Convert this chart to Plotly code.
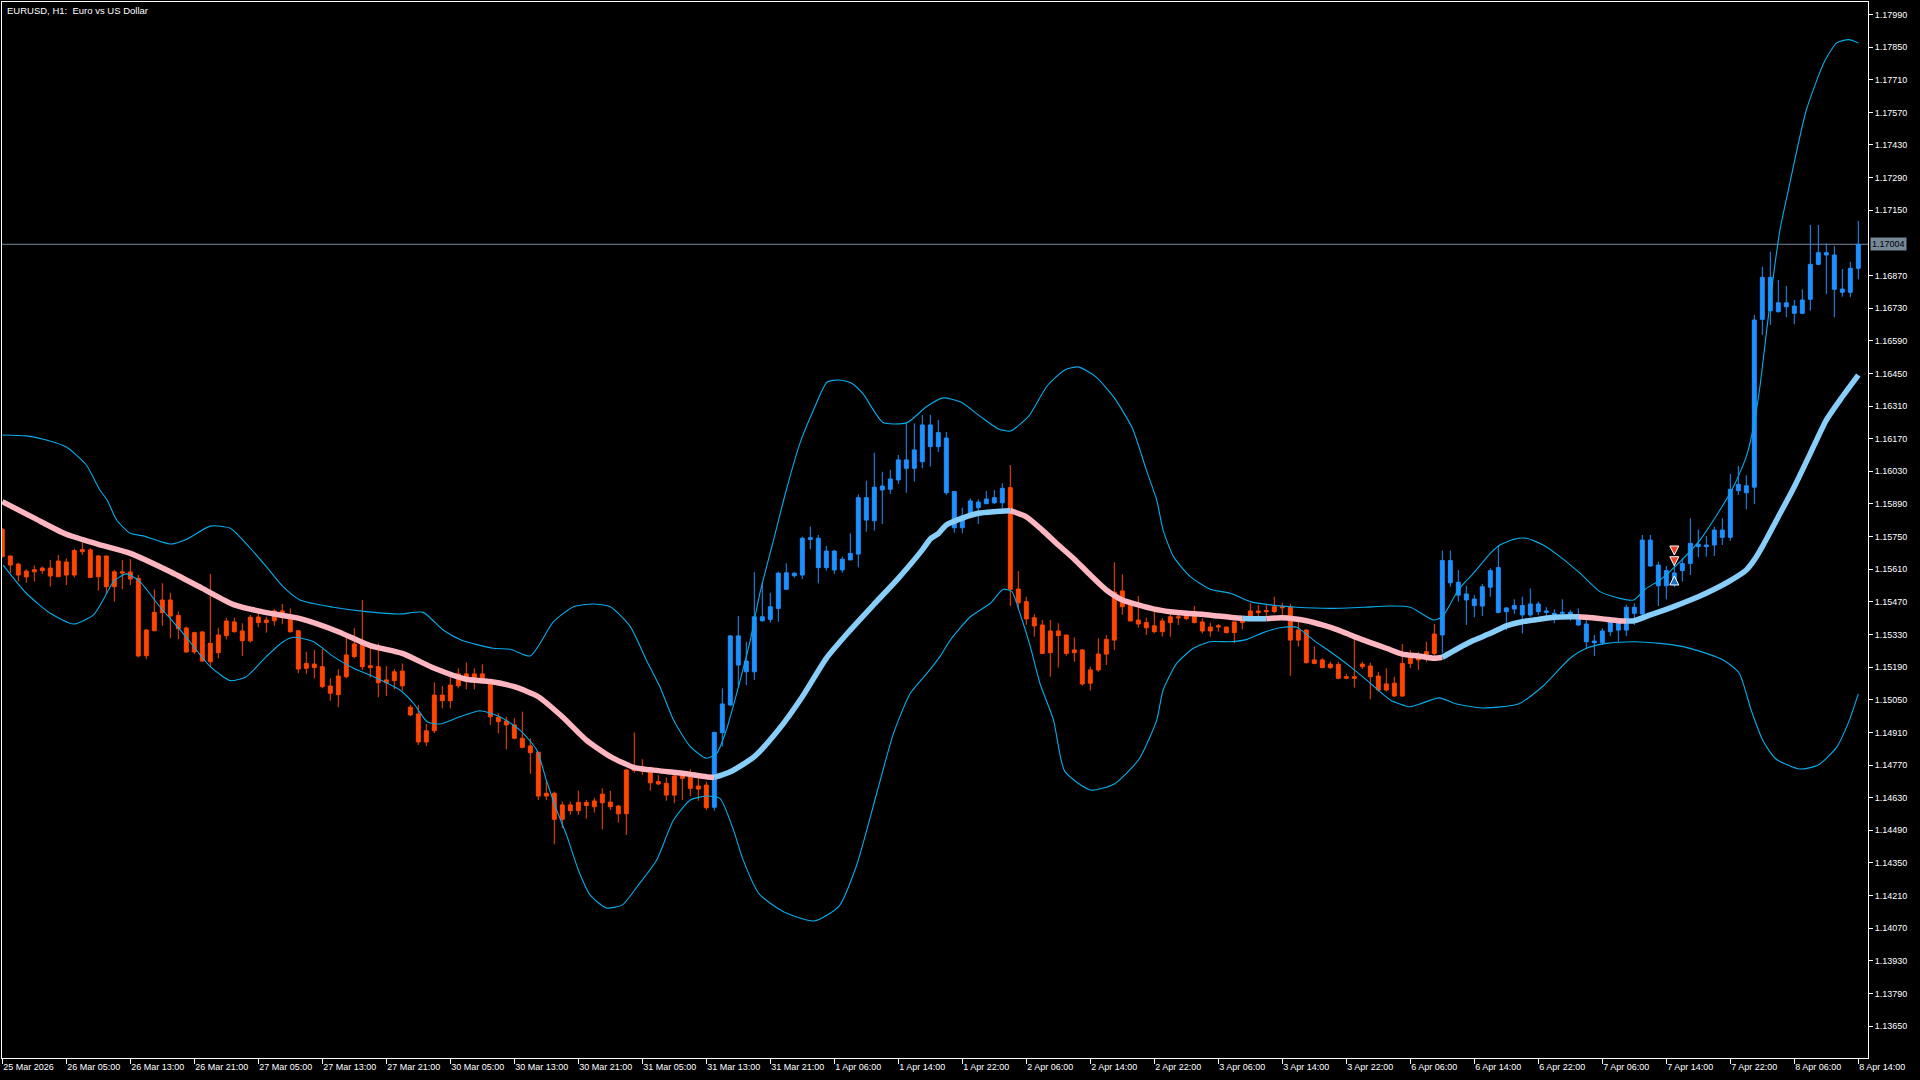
import plotly.graph_objects as go

# ---------------- DATA ----------------
tick_labels = ["25 Mar 2026", "26 Mar 05:00", "26 Mar 13:00", "26 Mar 21:00", "27 Mar 05:00",
               "27 Mar 13:00", "27 Mar 21:00", "30 Mar 05:00", "30 Mar 13:00", "30 Mar 21:00",
               "31 Mar 05:00", "31 Mar 13:00", "31 Mar 21:00", "1 Apr 06:00", "1 Apr 14:00",
               "1 Apr 22:00", "2 Apr 06:00", "2 Apr 14:00", "2 Apr 22:00", "3 Apr 06:00",
               "3 Apr 14:00", "3 Apr 22:00", "6 Apr 06:00", "6 Apr 14:00", "6 Apr 22:00",
               "7 Apr 06:00", "7 Apr 14:00", "7 Apr 22:00", "8 Apr 06:00", "8 Apr 14:00"]
tick_bars = [0, 8, 16, 24, 32, 40, 48, 56, 64, 72, 80, 88, 96, 104, 112, 120, 128, 136, 144,
             152, 160, 168, 176, 184, 192, 200, 208, 216, 224, 232]

price_ticks = [1.13650, 1.13790, 1.13930, 1.14070, 1.14210, 1.14350, 1.14490, 1.14630, 1.14770,
               1.14910, 1.15050, 1.15190, 1.15330, 1.15470, 1.15610, 1.15750, 1.15890, 1.16030,
               1.16170, 1.16310, 1.16450, 1.16590, 1.16730, 1.16870, 1.17150, 1.17290, 1.17430,
               1.17570, 1.17710, 1.17850, 1.17990]

open_ = [1.15781, 1.15667, 1.15632, 1.15577, 1.15599, 1.15604, 1.15615, 1.15578, 1.15641, 1.15585,
         1.15685, 1.15693, 1.15578, 1.15667, 1.15535, 1.15599, 1.15598, 1.15571, 1.15239, 1.15346,
         1.15424, 1.15478, 1.15412, 1.15358, 1.15255, 1.15341, 1.15213, 1.15252, 1.15325, 1.15384,
         1.15345, 1.15303, 1.15405, 1.15381, 1.15389, 1.15431, 1.15411, 1.15346, 1.15185, 1.15203,
         1.15192, 1.15109, 1.15072, 1.15149, 1.15235, 1.15289, 1.15196, 1.15192, 1.15123, 1.15132,
         1.15173, 1.15018, 1.14989, 1.14869, 1.14917, 1.15070, 1.15046, 1.15110, 1.15161, 1.15132,
         1.15161, 1.15123, 1.14975, 1.14959, 1.14942, 1.14885, 1.14852, 1.14825, 1.14637, 1.14649,
         1.14537, 1.14599, 1.14574, 1.14610, 1.14591, 1.14608, 1.14611, 1.14594, 1.14561, 1.14746,
         1.14763, 1.14759, 1.14699, 1.14692, 1.14641, 1.14723, 1.14723, 1.14680, 1.14684, 1.14589,
         1.14909, 1.15028, 1.15324, 1.15170, 1.15170, 1.15406, 1.15395, 1.15442, 1.15595, 1.15582,
         1.15585, 1.15738, 1.15743, 1.15617, 1.15688, 1.15607, 1.15650, 1.15675, 1.15917, 1.15818,
         1.15950, 1.15953, 1.15993, 1.16079, 1.16043, 1.16071, 1.16229, 1.16136, 1.16173, 1.15943,
         1.15788, 1.15835, 1.15898, 1.15891, 1.15895, 1.15895, 1.15960, 1.15525, 1.15471, 1.15402,
         1.15371, 1.15252, 1.15345, 1.15328, 1.15252, 1.15264, 1.15121, 1.15178, 1.15246, 1.15306,
         1.15517, 1.15455, 1.15392, 1.15381, 1.15367, 1.15342, 1.15381, 1.15406, 1.15398, 1.15418,
         1.15384, 1.15345, 1.15362, 1.15362, 1.15338, 1.15381, 1.15395, 1.15431, 1.15428, 1.15428,
         1.15449, 1.15447, 1.15306, 1.15349, 1.15206, 1.15221, 1.15188, 1.15202, 1.15142, 1.15149,
         1.15192, 1.15195, 1.15152, 1.15092, 1.15121, 1.15066, 1.15206, 1.15242, 1.15242, 1.15249,
         1.15328, 1.15647, 1.15554, 1.15504, 1.15482, 1.15452, 1.15533, 1.15617, 1.15428, 1.15439,
         1.15454, 1.15414, 1.15461, 1.15431, 1.15421, 1.15421, 1.15425, 1.15409, 1.15375, 1.15302,
         1.15295, 1.15342, 1.15385, 1.15349, 1.15447, 1.15418, 1.15735, 1.15628, 1.15539, 1.15594,
         1.15604, 1.15635, 1.15717, 1.15707, 1.15714, 1.15778, 1.15747, 1.15947, 1.15968, 1.15962,
         1.16682, 1.16862, 1.16715, 1.16753, 1.16739, 1.16708, 1.16768, 1.16918, 1.16968, 1.16958,
         1.16798, 1.16798, 1.16901]

high_ = [1.15787, 1.15667, 1.15638, 1.15610, 1.15627, 1.15621, 1.15650, 1.15671, 1.15657, 1.15698,
         1.15724, 1.15700, 1.15671, 1.15667, 1.15607, 1.15650, 1.15653, 1.15585, 1.15354, 1.15524,
         1.15550, 1.15509, 1.15428, 1.15364, 1.15342, 1.15345, 1.15590, 1.15357, 1.15402, 1.15402,
         1.15378, 1.15414, 1.15425, 1.15406, 1.15439, 1.15461, 1.15442, 1.15349, 1.15256, 1.15264,
         1.15267, 1.15142, 1.15181, 1.15328, 1.15357, 1.15478, 1.15271, 1.15292, 1.15195, 1.15181,
         1.15206, 1.15028, 1.15028, 1.14946, 1.15125, 1.15109, 1.15149, 1.15185, 1.15210, 1.15185,
         1.15202, 1.15135, 1.14992, 1.14977, 1.14971, 1.14999, 1.14885, 1.14827, 1.14706, 1.14656,
         1.14613, 1.14613, 1.14660, 1.14620, 1.14630, 1.14670, 1.14659, 1.14599, 1.14752, 1.14910,
         1.14795, 1.14763, 1.14727, 1.14716, 1.14741, 1.14735, 1.14752, 1.14723, 1.14699, 1.14913,
         1.15099, 1.15328, 1.15409, 1.15299, 1.15599, 1.15557, 1.15509, 1.15599, 1.15635, 1.15597,
         1.15750, 1.15793, 1.15757, 1.15710, 1.15693, 1.15664, 1.15764, 1.15931, 1.15989, 1.16110,
         1.16028, 1.16036, 1.16100, 1.16239, 1.16236, 1.16272, 1.16272, 1.16250, 1.16199, 1.15943,
         1.15874, 1.15914, 1.15910, 1.15946, 1.15950, 1.15979, 1.16057, 1.15602, 1.15492, 1.15417,
         1.15392, 1.15392, 1.15378, 1.15328, 1.15318, 1.15268, 1.15192, 1.15314, 1.15328, 1.15640,
         1.15588, 1.15474, 1.15495, 1.15402, 1.15438, 1.15400, 1.15421, 1.15424, 1.15431, 1.15452,
         1.15400, 1.15381, 1.15375, 1.15364, 1.15384, 1.15409, 1.15464, 1.15457, 1.15457, 1.15492,
         1.15466, 1.15461, 1.15388, 1.15352, 1.15278, 1.15228, 1.15213, 1.15213, 1.15161, 1.15321,
         1.15213, 1.15209, 1.15170, 1.15185, 1.15149, 1.15289, 1.15264, 1.15255, 1.15299, 1.15375,
         1.15690, 1.15690, 1.15607, 1.15539, 1.15499, 1.15547, 1.15614, 1.15714, 1.15447, 1.15481,
         1.15492, 1.15528, 1.15471, 1.15447, 1.15438, 1.15481, 1.15435, 1.15442, 1.15392, 1.15328,
         1.15357, 1.15400, 1.15400, 1.15457, 1.15464, 1.15757, 1.15757, 1.15642, 1.15624, 1.15628,
         1.15657, 1.15829, 1.15781, 1.15753, 1.15793, 1.15829, 1.16019, 1.16053, 1.16013, 1.16701,
         1.16908, 1.16972, 1.16851, 1.16825, 1.16765, 1.16811, 1.17087, 1.17087, 1.17008, 1.16997,
         1.16898, 1.16929, 1.17104]

low_ = [1.15660, 1.15594, 1.15557, 1.15552, 1.15557, 1.15590, 1.15535, 1.15578, 1.15542, 1.15575,
        1.15671, 1.15575, 1.15518, 1.15504, 1.15471, 1.15524, 1.15542, 1.15232, 1.15224, 1.15346,
        1.15367, 1.15314, 1.15309, 1.15252, 1.15246, 1.15213, 1.15192, 1.15228, 1.15309, 1.15338,
        1.15238, 1.15295, 1.15361, 1.15338, 1.15367, 1.15374, 1.15338, 1.15164, 1.15161, 1.15142,
        1.15099, 1.15046, 1.15018, 1.15142, 1.15228, 1.15178, 1.15146, 1.15061, 1.15066, 1.15095,
        1.15089, 1.14980, 1.14856, 1.14852, 1.14907, 1.15013, 1.15013, 1.15099, 1.15095, 1.15095,
        1.15121, 1.14942, 1.14906, 1.14838, 1.14880, 1.14842, 1.14732, 1.14620, 1.14620, 1.14430,
        1.14499, 1.14556, 1.14556, 1.14539, 1.14566, 1.14494, 1.14577, 1.14523, 1.14470, 1.14737,
        1.14727, 1.14660, 1.14684, 1.14617, 1.14606, 1.14620, 1.14637, 1.14617, 1.14577, 1.14574,
        1.14849, 1.15023, 1.15109, 1.15113, 1.15135, 1.15385, 1.15381, 1.15385, 1.15521, 1.15574,
        1.15568, 1.15696, 1.15550, 1.15604, 1.15590, 1.15595, 1.15650, 1.15618, 1.15771, 1.15775,
        1.15804, 1.15933, 1.15976, 1.15938, 1.15986, 1.16043, 1.16050, 1.16113, 1.15928, 1.15767,
        1.15764, 1.15831, 1.15804, 1.15891, 1.15889, 1.15871, 1.15452, 1.15435, 1.15371, 1.15321,
        1.15246, 1.15149, 1.15188, 1.15239, 1.15213, 1.15110, 1.15089, 1.15170, 1.15199, 1.15264,
        1.15414, 1.15388, 1.15359, 1.15328, 1.15335, 1.15321, 1.15321, 1.15371, 1.15392, 1.15378,
        1.15335, 1.15321, 1.15342, 1.15335, 1.15292, 1.15352, 1.15395, 1.15402, 1.15406, 1.15421,
        1.15406, 1.15153, 1.15278, 1.15206, 1.15202, 1.15185, 1.15182, 1.15138, 1.15138, 1.15102,
        1.15182, 1.15052, 1.15085, 1.15085, 1.15063, 1.15063, 1.15186, 1.15178, 1.15212, 1.15238,
        1.15249, 1.15535, 1.15471, 1.15371, 1.15404, 1.15409, 1.15492, 1.15421, 1.15349, 1.15418,
        1.15335, 1.15406, 1.15414, 1.15406, 1.15378, 1.15414, 1.15389, 1.15367, 1.15267, 1.15238,
        1.15285, 1.15324, 1.15299, 1.15324, 1.15371, 1.15414, 1.15621, 1.15452, 1.15481, 1.15534,
        1.15557, 1.15585, 1.15661, 1.15664, 1.15667, 1.15714, 1.15732, 1.15928, 1.15867, 1.15889,
        1.16615, 1.16658, 1.16711, 1.16691, 1.16661, 1.16705, 1.16719, 1.16915, 1.16790, 1.16691,
        1.16779, 1.16777, 1.16854]

close_ = [1.15664, 1.15628, 1.15585, 1.15602, 1.15608, 1.15615, 1.15581, 1.15645, 1.15585, 1.15690,
          1.15694, 1.15575, 1.15667, 1.15535, 1.15599, 1.15594, 1.15568, 1.15238, 1.15349, 1.15425,
          1.15478, 1.15409, 1.15355, 1.15255, 1.15338, 1.15216, 1.15292, 1.15328, 1.15388, 1.15342,
          1.15303, 1.15404, 1.15381, 1.15392, 1.15431, 1.15406, 1.15342, 1.15182, 1.15206, 1.15188,
          1.15106, 1.15078, 1.15152, 1.15242, 1.15289, 1.15192, 1.15188, 1.15123, 1.15135, 1.15170,
          1.15110, 1.14985, 1.14869, 1.14917, 1.15070, 1.15046, 1.15113, 1.15161, 1.15132, 1.15161,
          1.15123, 1.14977, 1.14956, 1.14942, 1.14885, 1.14846, 1.14823, 1.14637, 1.14649, 1.14537,
          1.14599, 1.14574, 1.14610, 1.14596, 1.14616, 1.14645, 1.14591, 1.14561, 1.14749, 1.14763,
          1.14753, 1.14694, 1.14689, 1.14641, 1.14723, 1.14713, 1.14670, 1.14667, 1.14587, 1.14910,
          1.15032, 1.15324, 1.15199, 1.15216, 1.15406, 1.15389, 1.15449, 1.15593, 1.15524, 1.15593,
          1.15743, 1.15745, 1.15617, 1.15688, 1.15607, 1.15653, 1.15678, 1.15917, 1.15821, 1.15962,
          1.15967, 1.15997, 1.16079, 1.16043, 1.16122, 1.16229, 1.16136, 1.16196, 1.15938, 1.15788,
          1.15838, 1.15903, 1.15874, 1.15911, 1.15917, 1.15957, 1.15524, 1.15466, 1.15397, 1.15367,
          1.15249, 1.15345, 1.15325, 1.15249, 1.15264, 1.15118, 1.15178, 1.15246, 1.15309, 1.15512,
          1.15449, 1.15388, 1.15375, 1.15359, 1.15342, 1.15388, 1.15406, 1.15402, 1.15424, 1.15381,
          1.15345, 1.15362, 1.15367, 1.15338, 1.15384, 1.15398, 1.15431, 1.15424, 1.15432, 1.15449,
          1.15445, 1.15306, 1.15349, 1.15209, 1.15221, 1.15188, 1.15203, 1.15142, 1.15149, 1.15142,
          1.15203, 1.15149, 1.15092, 1.15118, 1.15066, 1.15206, 1.15242, 1.15221, 1.15256, 1.15332,
          1.15647, 1.15552, 1.15499, 1.15478, 1.15454, 1.15535, 1.15604, 1.15425, 1.15444, 1.15454,
          1.15414, 1.15461, 1.15428, 1.15425, 1.15402, 1.15425, 1.15406, 1.15371, 1.15299, 1.15295,
          1.15345, 1.15385, 1.15349, 1.15447, 1.15421, 1.15735, 1.15624, 1.15539, 1.15604, 1.15551,
          1.15635, 1.15721, 1.15707, 1.15714, 1.15778, 1.15747, 1.15953, 1.15974, 1.15938, 1.16679,
          1.16862, 1.16719, 1.16753, 1.16736, 1.16708, 1.16765, 1.16918, 1.16968, 1.16958, 1.16811,
          1.16812, 1.16901, 1.17004]

# candle colouring (trend state): bar index where each state starts
candle_trend_start = [0, 89, 126, 180]
candle_trend_state = ["down", "up", "down", "up"]

# moving average (thick line), sampled at bars
ma_bar = [0, 4, 8, 12, 16, 21, 25, 29, 33, 37, 42, 46, 50, 54, 58, 61, 64, 67, 70, 73, 76, 79, 82,
          85, 88, 89, 91, 94, 97, 100, 103, 106, 109, 112, 115, 116, 117, 118, 120, 122, 124, 126,
          128, 130, 132, 134, 136, 138, 140, 142, 144, 146, 148, 150, 152, 154, 155, 156, 158, 160,
          163, 165, 167, 169, 171, 173, 175, 177, 179, 180, 182, 184, 186, 188, 190, 192, 194, 196,
          197, 198, 200, 202, 203, 204, 206, 208, 210, 212, 214, 216, 218, 219, 220, 222, 224, 226,
          228, 230, 232]
ma_val = [1.15900, 1.15829, 1.15760, 1.15717, 1.15678, 1.15599, 1.15528, 1.15457, 1.15424, 1.15400,
          1.15342, 1.15282, 1.15249, 1.15185, 1.15138, 1.15128, 1.15106, 1.15063, 1.14977, 1.14877,
          1.14806, 1.14759, 1.14746, 1.14735, 1.14720, 1.14717, 1.14741, 1.14806, 1.14920, 1.15063,
          1.15228, 1.15349, 1.15461, 1.15571, 1.15693, 1.15740, 1.15763, 1.15800, 1.15829, 1.15850,
          1.15857, 1.15861, 1.15835, 1.15778, 1.15714, 1.15653, 1.15585, 1.15521, 1.15478, 1.15457,
          1.15439, 1.15428, 1.15421, 1.15417, 1.15409, 1.15402, 1.15400, 1.15398, 1.15398, 1.15402,
          1.15389, 1.15371, 1.15349, 1.15321, 1.15295, 1.15271, 1.15246, 1.15238, 1.15228, 1.15232,
          1.15271, 1.15306, 1.15335, 1.15367, 1.15385, 1.15395, 1.15404, 1.15406, 1.15406, 1.15404,
          1.15397, 1.15389, 1.15388, 1.15389, 1.15414, 1.15438, 1.15464, 1.15492, 1.15524, 1.15561,
          1.15607, 1.15650, 1.15707, 1.15835, 1.15964, 1.16107, 1.16250, 1.16350, 1.16443]
# MA colour segments: (first bar, last bar, state)
ma_segments = [(0, 89, "down"), (89, 126, "up"), (126, 155, "down"), (155, 158, "up"),
               (158, 180, "down"), (180, 197, "up"), (197, 203, "down"), (203, 232, "up")]

# Bollinger bands, sampled
upper_bar = [0, 3, 5.5, 8, 10.5, 12.2, 13.1, 14.3, 16, 17.6, 21, 23, 26, 28.5, 31, 33, 35.1, 37.2,
             41.4, 45.5, 49.7, 52.6, 55.1, 57.5, 61.4, 63.5, 66, 68.9, 71.4, 73.9, 76, 78.5, 80.5,
             82.2, 83.9, 86, 88, 89.3, 90.5, 91.8, 93.5, 94.7, 96.4, 98, 99.7, 101.4, 103.1, 104.6,
             106.1, 107.6, 110.1, 113.1, 115.5, 117.6, 119.8, 122.2, 124.5, 126, 128.3, 130.6, 132.8,
             134.5, 136.7, 139, 141.3, 143, 144.3, 145.1, 146.4, 148.5, 151, 153.5, 156, 158.5,
             161.8, 166, 170.1, 173.5, 176, 178.9, 180, 182, 183.9, 186, 187.2, 188.9, 190.5, 192.6,
             194.7, 197.2, 199.7, 202.2, 203.9, 205.5, 207.2, 209.7, 212.2, 214.7, 216.4, 218,
             218.9, 219.7, 220.6, 221.4, 222.2, 223.2, 225.5, 227.8, 229.3, 230.8, 232]
upper_val = [1.16186, 1.16182, 1.16164, 1.16134, 1.16057, 1.15950, 1.15907, 1.15821, 1.15764,
             1.15753, 1.15718, 1.15738, 1.15795, 1.15786, 1.15700, 1.15621, 1.15535, 1.15478,
             1.15447, 1.15428, 1.15418, 1.15425, 1.15349, 1.15304, 1.15271, 1.15267, 1.15238,
             1.15385, 1.15449, 1.15461, 1.15449, 1.15364, 1.15221, 1.15106, 1.14963, 1.14849,
             1.14799, 1.14820, 1.14920, 1.15078, 1.15306, 1.15507, 1.15735, 1.15950, 1.16150,
             1.16293, 1.16413, 1.16422, 1.16409, 1.16362, 1.16239, 1.16239, 1.16307, 1.16345,
             1.16327, 1.16267, 1.16212, 1.16203, 1.16267, 1.16396, 1.16465, 1.16478, 1.16435,
             1.16345, 1.16212, 1.16036, 1.15907, 1.15778, 1.15664, 1.15578, 1.15524, 1.15507,
             1.15471, 1.15457, 1.15447, 1.15442, 1.15447, 1.15452, 1.15447, 1.15392, 1.15406,
             1.15521, 1.15593, 1.15678, 1.15714, 1.15738, 1.15743, 1.15714, 1.15664, 1.15593,
             1.15514, 1.15485, 1.15478, 1.15528, 1.15564, 1.15642, 1.15735, 1.15864, 1.15964,
             1.16093, 1.16222, 1.16393, 1.16651, 1.16872, 1.17065, 1.17228, 1.17580, 1.17790,
             1.17868, 1.17882, 1.17868]
lower_bar = [0.1, 3, 6, 8.9, 11.4, 12.6, 13.9, 15.5, 17.2, 19.7, 22.6, 26, 28.5, 30.5, 33, 35.1,
             36.4, 38.9, 41.4, 43.9, 46.4, 49.7, 51.4, 53.1, 54.7, 57.2, 59.7, 62.2, 64.7, 66.8, 68,
             69.3, 70.6, 72, 73.5, 75.5, 77.5, 79.5, 81.8, 83.9, 86, 88, 89.7, 91.4, 92.6, 94.6,
             97.7, 101.5, 104.6, 106.8, 109.3, 111.4, 113.5, 115.6, 117.2, 118.5, 121, 123.5, 125.1,
             126.2, 127.2, 128.5, 129.7, 131.4, 132.8, 136, 139, 142.1, 144.3, 145.1, 146.8, 148.9,
             151, 153.5, 155.6, 157.6, 160.1, 161.8, 163.9, 166, 168.5, 171, 173.5, 176, 177.2,
             179.6, 181.8, 185, 189.5, 192.6, 196, 198, 200.5, 203.9, 207.2, 210.1, 213, 215.1,
             217.1, 218.6, 220.1, 221.7, 224.7, 227, 229.3, 230.8, 232]
lower_val = [1.15628, 1.15507, 1.15421, 1.15375, 1.15414, 1.15478, 1.15557, 1.15590, 1.15557,
             1.15449, 1.15335, 1.15192, 1.15132, 1.15149, 1.15235, 1.15299, 1.15318, 1.15299,
             1.15235, 1.15185, 1.15149, 1.15092, 1.15035, 1.14956, 1.14946, 1.14977, 1.15003,
             1.14977, 1.14920, 1.14835, 1.14706, 1.14577, 1.14463, 1.14320, 1.14212, 1.14157,
             1.14170, 1.14255, 1.14363, 1.14534, 1.14620, 1.14637, 1.14627, 1.14491, 1.14363,
             1.14217, 1.14140, 1.14101, 1.14165, 1.14341, 1.14649, 1.14906, 1.15078, 1.15164,
             1.15235, 1.15306, 1.15406, 1.15464, 1.15524, 1.15514, 1.15421, 1.15278, 1.15121,
             1.14963, 1.14744, 1.14663, 1.14689, 1.14796, 1.14963, 1.15092, 1.15206, 1.15271,
             1.15299, 1.15299, 1.15309, 1.15338, 1.15361, 1.15361, 1.15306, 1.15256, 1.15192,
             1.15121, 1.15049, 1.15020, 1.15032, 1.15058, 1.15032, 1.15015, 1.15032, 1.15109,
             1.15229, 1.15271, 1.15292, 1.15299, 1.15292, 1.15278, 1.15249, 1.15221, 1.15165,
             1.15006, 1.14873, 1.14796, 1.14753, 1.14770, 1.14847, 1.14955, 1.15075]

# trade arrows
trade_bar = [209, 209, 209]
trade_price = [1.15671, 1.15625, 1.15581]
trade_side = ["sell", "sell", "buy"]

bid_price = 1.17004
title_text = "EURUSD, H1:\u00a0 Euro vs US Dollar"

# ---------------- STYLE ----------------
CANDLE_COL = {"down": "#FF4500", "up": "#1E90FF"}
MA_COL = {"down": "#FFB6C1", "up": "#87CEFA"}
BAND_COL = "#05ADEB"
BID_COL = "#778899"
FONT = "Liberation Sans, Arial, sans-serif"


def state_of(i):
    s = candle_trend_state[0]
    for b, st in zip(candle_trend_start, candle_trend_state):
        if i >= b:
            s = st
    return s


fig = go.Figure()

for st in ("down", "up"):
    idx = [i for i in range(len(close_)) if state_of(i) == st]
    c = CANDLE_COL[st]
    fig.add_trace(go.Candlestick(
        x=idx,
        open=[open_[i] for i in idx], high=[high_[i] for i in idx],
        low=[low_[i] for i in idx], close=[close_[i] for i in idx],
        increasing=dict(line=dict(color=c, width=1), fillcolor=c),
        decreasing=dict(line=dict(color=c, width=1), fillcolor=c),
        whiskerwidth=0, hoverinfo="skip", showlegend=False))

for bx, bv in ((upper_bar, upper_val), (lower_bar, lower_val)):
    fig.add_trace(go.Scatter(x=bx, y=bv, mode="lines",
                             line=dict(color=BAND_COL, width=1.1, shape="spline", smoothing=0.6),
                             hoverinfo="skip", showlegend=False))

for s, e, st in ma_segments:
    xs = [b for b in ma_bar if s <= b <= e]
    ys = [v for b, v in zip(ma_bar, ma_val) if s <= b <= e]
    fig.add_trace(go.Scatter(x=xs, y=ys, mode="lines",
                             line=dict(color=MA_COL[st], width=5.5, shape="spline", smoothing=0.6),
                             hoverinfo="skip", showlegend=False))

fig.add_trace(go.Scatter(
    x=trade_bar, y=trade_price, mode="markers",
    marker=dict(symbol=["arrow-down" if s == "sell" else "arrow-up" for s in trade_side],
                color=["#E8432A" if s == "sell" else "#1F6FC5" for s in trade_side],
                size=9, line=dict(color="white", width=1)),
    hoverinfo="skip", showlegend=False))

fig.add_shape(type="line", xref="paper", x0=0, x1=1, yref="y", y0=bid_price, y1=bid_price,
              line=dict(color=BID_COL, width=1), layer="below")

fig.add_annotation(xref="paper", x=1, xanchor="left", xshift=2, yref="y", y=bid_price,
                   yanchor="middle", text=f"{bid_price:.5f}", showarrow=False,
                   bgcolor=BID_COL, borderpad=1, font=dict(family=FONT, size=9, color="#000000"))

fig.add_annotation(xref="paper", x=0, xanchor="left", xshift=3, yref="paper", y=1,
                   yanchor="top", yshift=-1, text=title_text, showarrow=False,
                   font=dict(family=FONT, size=9.5, color="#FFFFFF"))

fig.update_layout(
    width=1920, height=1080,
    paper_bgcolor="#000000", plot_bgcolor="#000000",
    margin=dict(l=2, r=52, t=2, b=22),
    showlegend=False,
    hovermode=False,
    xaxis=dict(range=[-0.0375, 233.21], tickmode="array", tickvals=tick_bars, ticktext=tick_labels,
               ticks="outside", ticklen=5, tickwidth=1, tickcolor="#FFFFFF",
               showline=True, linecolor="#FFFFFF", linewidth=1, mirror=True,
               showgrid=False, zeroline=False, rangeslider=dict(visible=False),
               ticklabelposition="outside right",
               tickfont=dict(family=FONT, size=9, color="#FFFFFF")),
    yaxis=dict(range=[1.135132, 1.180434], side="right", tickmode="array",
               tickvals=price_ticks, ticktext=[f"{p:.5f}" for p in price_ticks],
               ticks="outside", ticklen=4, tickwidth=1, tickcolor="#FFFFFF",
               showline=True, linecolor="#FFFFFF", linewidth=1, mirror=True,
               showgrid=False, zeroline=False,
               tickfont=dict(family=FONT, size=9, color="#FFFFFF")),
)

fig.write_html("out.html", config={"displayModeBar": False},
               post_script="document.body.style.margin='0';document.body.style.overflow='hidden';")
